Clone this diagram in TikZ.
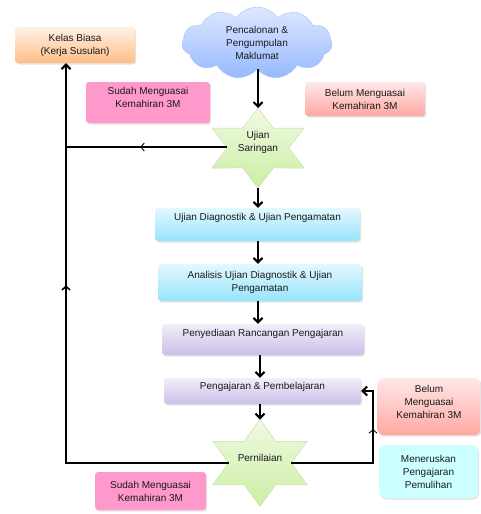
\documentclass[tikz,border=0pt]{standalone}
\usepackage{fontspec}
\setmainfont{Liberation Sans}
\usetikzlibrary{shapes.symbols,shadows,arrows.meta,decorations.markings}
\definecolor{txt}{HTML}{1A1A1A}
\begin{document}
\begin{tikzpicture}[x=1pt,y=-1pt,
  font=\fontsize{10}{13}\selectfont,
  box/.style={rectangle, rounded corners=3pt, align=center, inner sep=0pt, text=txt,
    drop shadow={shadow xshift=1.2pt,shadow yshift=-1.5pt,opacity=0.22}},
  orangebox/.style={box, top color=orange!10, bottom color={rgb,255:red,255;green,190;blue,135}},
  pinkbox/.style={box, fill={rgb,255:red,255;green,153;blue,204}},
  redbox/.style={box, top color={rgb,255:red,255;green,232;blue,232}, bottom color={rgb,255:red,255;green,168;blue,162}},
  cyanbox/.style={box, top color={rgb,255:red,228;green,248;blue,255}, bottom color={rgb,255:red,150;green,228;blue,252}},
  lavbox/.style={box, top color={rgb,255:red,242;green,238;blue,250}, bottom color={rgb,255:red,204;green,190;blue,232}},
  aquabox/.style={box, rounded corners=6pt, fill={rgb,255:red,204;green,255;blue,255}},
  starstyle/.style={draw={rgb,255:red,200;green,225;blue,170}, line width=0.5pt,
    top color={rgb,255:red,240;green,250;blue,226}, bottom color={rgb,255:red,204;green,238;blue,164}},
  flow/.style={line width=2.1pt, -{Straight Barb[length=4.5pt,width=9pt]}},
  line/.style={line width=2.1pt},
  midmark/.style 2 args={postaction={decorate, decoration={markings,
    mark=at position #1 with {\arrow[line width=#2]{Straight Barb[length=3.5pt,width=8pt]}}}}}
]
\useasboundingbox (0,0) rectangle (481,514);

% cloud
\node[cloud, cloud puffs=11, cloud puff arc=110, aspect=2.1, minimum width=150pt, minimum height=72pt,
  inner sep=0pt, align=center, text=txt, draw={rgb,255:red,170;green,195;blue,240},
  top color={rgb,255:red,222;green,232;blue,255}, bottom color={rgb,255:red,150;green,185;blue,255}]
  (cloud) at (257,43) {Pencalonan \&\\Pengumpulan\\Maklumat};

% boxes
\node[orangebox, minimum width=120pt, minimum height=36pt] (kelas) at (75,45) {Kelas Biasa\\(Kerja Susulan)};
\node[pinkbox, minimum width=124pt, minimum height=41pt, text depth=10pt] (sudah1) at (148,102.5) {Sudah Menguasai\\Kemahiran 3M};
\node[redbox, minimum width=120pt, minimum height=34pt] (belum1) at (365,99) {Belum Menguasai\\Kemahiran 3M};
\node[cyanbox, minimum width=205pt, minimum height=33pt, text depth=15pt] (diag) at (257.5,224.5) {Ujian Diagnostik \& Ujian Pengamatan};
\node[cyanbox, minimum width=204pt, minimum height=37pt] (anal) at (260,282.5) {Analisis Ujian Diagnostik \& Ujian\\Pengamatan};
\node[lavbox, minimum width=202pt, minimum height=31pt, text depth=13pt] (sedia) at (263,339.5) {Penyediaan Rancangan Pengajaran};
\node[lavbox, minimum width=197pt, minimum height=26pt, text depth=10pt] (peng) at (262.5,391) {Pengajaran \& Pembelajaran};
\node[redbox, rounded corners=6pt, minimum width=103pt, minimum height=57pt, text depth=9pt] (belum2) at (429,406.5) {Belum\\Menguasai\\Kemahiran 3M};
\node[aquabox, minimum width=99pt, minimum height=53pt] (terus) at (428.5,471.5) {Meneruskan\\Pengajaran\\Pemulihan};
\node[pinkbox, minimum width=111pt, minimum height=38pt] (sudah2) at (150.5,491) {Sudah Menguasai\\Kemahiran 3M};

% star 1
\coordinate (s1c) at (258,148);
\begin{scope}[shift={(s1c)}, xscale=1.33]
\path[starstyle] (90:40) -- (60:23.09) -- (30:40) -- (0:23.09) -- (-30:40) -- (-60:23.09) -- (-90:40)
  -- (-120:23.09) -- (-150:40) -- (180:23.09) -- (150:40) -- (120:23.09) -- cycle;
\end{scope}
\node[align=center, inner sep=0pt, text=txt] (s1) at (258,142.5) {Ujian\\Saringan};
\coordinate (s1top) at (258,108);
\coordinate (s1bot) at (258,188);
\coordinate (s1left) at (227.3,147);

% star 2
\coordinate (s2c) at (260,463);
\begin{scope}[shift={(s2c)}, xscale=1.25]
\path[starstyle] (90:43.5) -- (60:25.11) -- (30:43.5) -- (0:25.11) -- (-30:43.5) -- (-60:25.11) -- (-90:43.5)
  -- (-120:25.11) -- (-150:43.5) -- (180:25.11) -- (150:43.5) -- (120:25.11) -- cycle;
\end{scope}
\node[inner sep=0pt, text=txt] (s2) at (260,457.5) {Pernilaian};
\coordinate (s2top) at (260,419.5);
\coordinate (s2left) at (228.6,463);
\coordinate (s2right) at (291.4,463);

% junctions
\coordinate (j2) at (66,463);
\coordinate (j3) at (373,463);

% main flow
\draw[flow] (cloud.south -| s1top) -- (s1top);
\draw[flow] (s1bot) -- (s1bot |- diag.north);
\draw[flow] (diag.south -| s1bot) -- (anal.north -| s1bot);
\draw[flow] (anal.south -| s1bot) -- (sedia.north -| s1bot);
\draw[flow] (sedia.south -| s2top) -- (peng.north -| s2top);
\draw[flow] (peng.south -| s2top) -- (s2top);

% side connectors
\draw[line, midmark={0.54}{0.9pt}] (s1left) -- (s1left -| j2);
\draw[flow, midmark={0.605}{1.6pt}] (s2left) -- (j2) -- (j2 |- kelas.south);
\draw[flow, midmark={0.698}{0.8pt}] (s2right) -- (j3) -- (j3 |- peng.east) -- (peng.east);
\end{tikzpicture}
\end{document}
